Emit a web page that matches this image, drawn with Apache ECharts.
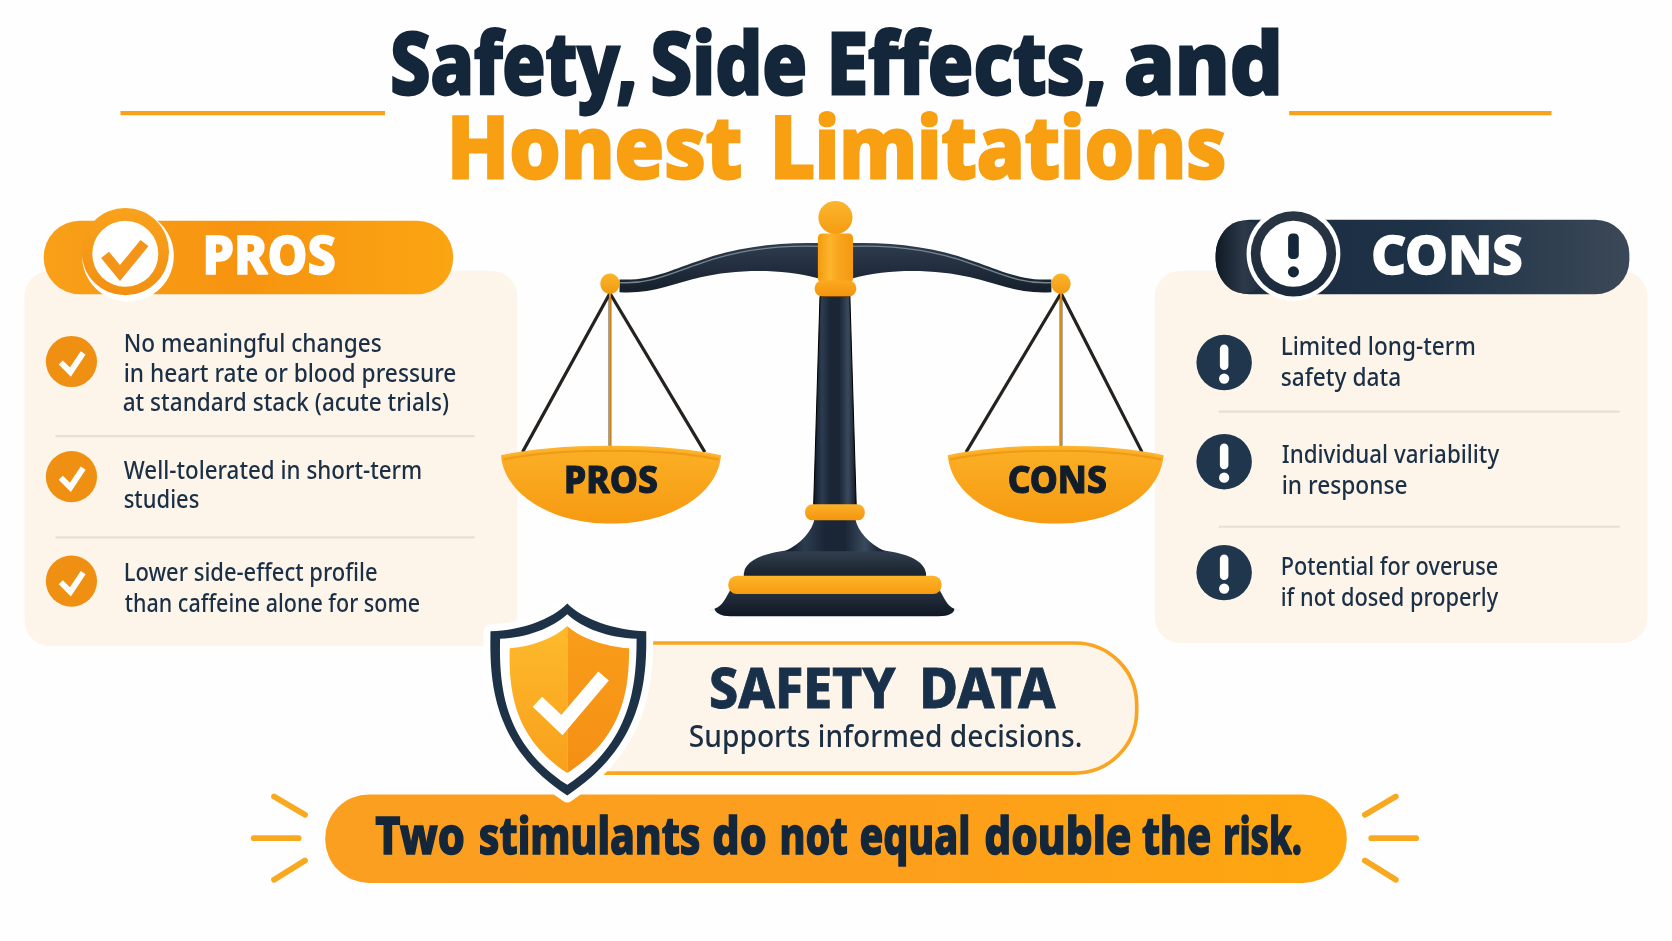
<!DOCTYPE html>
<html>
<head>
<meta charset="utf-8">
<title>Safety, Side Effects, and Honest Limitations</title>
<script src="https://cdn.jsdelivr.net/npm/echarts@6/dist/echarts.min.js"></script>
<style>
html, body { margin: 0; padding: 0; background: #fefefe; }
#main { width: 1672px; height: 941px; }
</style>
</head>
<body>
<div id="main"></div>
<script>
// texts
var titleWords1 = ['Safety,', 'Side', 'Effects,', 'and'];
var titleWords2 = ['Honest', 'Limitations'];
var prosHeader = 'PROS';
var consHeader = 'CONS';
var prosItems = [
	['No meaningful changes', 'in heart rate or blood pressure', 'at standard stack (acute trials)'],
	['Well-tolerated in short-term', 'studies'],
	['Lower side-effect profile', 'than caffeine alone for some']
];
var consItems = [
	['Limited long-term', 'safety data'],
	['Individual variability', 'in response'],
	['Potential for overuse', 'if not dosed properly']
];
var safetyWords = ['SAFETY', 'DATA'];
var safetySub = 'Supports informed decisions.';
var bannerWords = ['Two', 'stimulants', 'do', 'not', 'equal', 'double', 'the', 'risk.'];

// colours
var navy = '#13263a';
var orange = '#f9a11b';
var cream = '#fdf5ea';
var FONT = '"Noto Sans", sans-serif';

var chart = echarts.init(document.getElementById('main'));
var ctx = document.createElement('canvas').getContext('2d');
var items = [];
var pathCount = 0;

function vgrad(a, b) {
	return { type: 'linear', x: 0, y: 0, x2: 0, y2: 1, colorStops: [{ offset: 0, color: a }, { offset: 1, color: b }] };
}
function hgrad(stops) {
	var cs = [];
	for (var i = 0; i < stops.length; i++) {
		cs.push({ offset: i / (stops.length - 1), color: stops[i] });
	}
	return { type: 'linear', x: 0, y: 0, x2: 1, y2: 0, colorStops: cs };
}
function rect(x, y, w, h, r, style) {
	items.push({ type: 'rect', shape: { x: x, y: y, width: w, height: h, r: r }, style: style });
}
function circle(cx, cy, r, fill) {
	items.push({ type: 'circle', shape: { cx: cx, cy: cy, r: r }, style: { fill: fill } });
}
function ellipse(cx, cy, rx, ry, fill, extra) {
	var style = { fill: fill };
	if (extra) {
		style.shadowBlur = extra.blur;
		style.shadowColor = extra.color;
	}
	items.push({ type: 'ellipse', shape: { cx: cx, cy: cy, rx: rx, ry: ry }, style: style });
}
function line(x1, y1, x2, y2, color, w, cap) {
	items.push({ type: 'line', shape: { x1: x1, y1: y1, x2: x2, y2: y2 }, style: { stroke: color, lineWidth: w, lineCap: cap || 'butt' } });
}
// the graphic component has no plain svg path type, so each one gets its own shape
function path(d, style) {
	var name = 'sketchPath' + (pathCount++);
	echarts.graphic.registerShape(name, echarts.graphic.extendPath(d, {}));
	items.push({ type: name, style: style });
}
function poly(points, style) {
	items.push({ type: 'polyline', shape: { points: points }, style: style });
}
// text squeezed to the width it has in the picture
function text(str, x, y, size, weight, fill, width, bold) {
	var font = weight + ' ' + size + 'px ' + FONT;
	ctx.font = font;
	var style = { text: str, x: 0, y: 0, font: font, fill: fill, textAlign: 'left', textVerticalAlign: 'middle' };
	if (bold) {
		style.stroke = fill;
		style.lineWidth = bold;
	}
	items.push({
		type: 'text',
		x: x,
		y: y,
		scaleX: width / ctx.measureText(str).width,
		style: style
	});
}
// one row of separately placed words, spans are [left, right]
function words(list, spans, y, size, fill, bold) {
	list.forEach(function(w, i) {
		text(w, spans[i][0], y, size, 800, fill, spans[i][1] - spans[i][0], bold);
	});
}
function check(cx, cy) {
	poly([[cx - 10, cy + 1], [cx - 1, cy + 10], [cx + 11, cy - 8]], { fill: 'none', stroke: '#fff', lineWidth: 5.5 });
}
function bang(cx, cy) {
	rect(cx - 4, cy - 17, 8, 24, 4, { fill: '#fff' });
	circle(cx, cy + 15, 4.8, '#fff');
}

// title
words(titleWords1, [[366, 598], [610, 757], [775, 1038], [1054, 1203]], 65, 80, navy, 2.6);
words(titleWords2, [[419, 696], [722, 1150]], 144, 80, '#f89f12', 2.6);
line(113, 106, 361, 106, orange, 4);
line(1209, 106, 1455, 106, orange, 4);

// pros panel
rect(23, 254, 462, 352, 24, { fill: cream });
rect(41, 207, 384, 69, 34, { fill: hgrad(['#f99f18', '#f7940f', '#fba513']) });
circle(120, 240, 43, '#fff');
circle(117.5, 236, 41, vgrad('#f9a21c', '#f29012'));
circle(117.5, 238, 31, '#fff');
poly([[98.5, 239], [112.5, 256], [135.5, 228]], { fill: 'none', stroke: '#f4951a', lineWidth: 9.5 });
text(prosHeader, 190, 243, 50, 800, '#fff', 125, 1.5);

var prosIconY = [339, 447, 545];
var prosLineY = [[324, 352, 379], [443, 470], [538, 567]];
var prosLineX = [[116, 116, 115], [116, 116], [116, 117]];
var prosLineW = [[242, 312, 306], [280, 71], [238, 277]];
prosItems.forEach(function(lines, i) {
	circle(67, prosIconY[i], 24, '#ef9013');
	check(67, prosIconY[i]);
	lines.forEach(function(s, j) {
		text(s, prosLineX[i][j], prosLineY[i][j], 23, 500, '#1b3046', prosLineW[i][j]);
	});
});
line(52, 409, 445, 409, '#e7dfd3', 2);
line(52, 504, 445, 504, '#e7dfd3', 2);

// cons panel
rect(1083, 254, 462, 349, 24, { fill: cream });
rect(1140, 206, 388, 70, 32, { fill: hgrad(['#1a2a3d', '#1e3247', '#3b4857']) });
ellipse(1166, 241, 26, 34, hgrad(['#0f1925', '#2d3948', '#1c2c3e']));
circle(1213, 238, 44, '#fff');
circle(1213, 238, 40, vgrad('#2a3643', '#1a2a3d'));
circle(1213, 238, 31, '#fff');
rect(1208, 219, 10, 24, 4, { fill: navy });
circle(1213, 255, 5.2, navy);
text(consHeader, 1286, 243, 50, 800, '#fff', 142, 1.5);

var consIconY = [340, 433, 537];
var consLineY = [[326, 355], [428, 457], [533, 562]];
var consLineX = [[1201, 1201], [1202, 1202], [1201, 1201]];
var consLineW = [[183, 113], [204, 118], [204, 204]];
consItems.forEach(function(lines, i) {
	circle(1148, consIconY[i], 26, '#1f364d');
	bang(1148, consIconY[i]);
	lines.forEach(function(s, j) {
		text(s, consLineX[i][j], consLineY[i][j], 23, 500, '#1b3046', consLineW[i][j]);
	});
});
line(1143, 386, 1519, 386, '#e7dfd3', 2);
line(1143, 494, 1519, 494, '#e7dfd3', 2);

// scale: floor shadow
ellipse(783, 572, 118, 4, 'rgba(110,110,110,0.08)', { blur: 24, color: 'rgba(110,110,110,0.3)' });

// strings
function strings(apexX, left, right) {
	line(apexX, 275, left, 424, '#24211f', 3);
	line(apexX, 275, right, 424, '#24211f', 3);
	line(apexX, 275, apexX, 421, '#4a3210', 2.6);
	line(apexX, 275, apexX, 421, '#f39c10', 1.6);
}
strings(572, 490, 661);
strings(995, 906, 1071);

// pans
function pan(x1, x2, label, tx, tw) {
	var c = (x1 + x2) / 2;
	var d = 'M' + x1 + ' 428 C' + (x1 + 3) + ' 462 ' + (c - 58) + ' 491 ' + c + ' 491 C' + (c + 58) + ' 491 ' + (x2 - 3) + ' 462 ' + x2 + ' 428 ' +
		'C' + (c + 50) + ' 416 ' + (c - 50) + ' 416 ' + x1 + ' 428Z';
	path(d, { fill: vgrad('#fbb027', '#f69a11') });
	path('M' + (x1 + 2) + ' 431 C' + (c - 50) + ' 420 ' + (c + 50) + ' 420 ' + (x2 - 2) + ' 431', { fill: 'none', stroke: '#f09a15', lineWidth: 2 });
	path('M' + x1 + ' 428 C' + (c - 50) + ' 416 ' + (c + 50) + ' 416 ' + x2 + ' 428', { fill: 'none', stroke: '#fcb42e', lineWidth: 2 });
	text(label, tx, 452, 35, 800, '#111d2b', tw, 1);
}
pan(470, 676, prosHeader, 529, 88);
pan(889, 1091, consHeader, 945, 93);

// beam
path('M581 262 C610 264 632 252 657 244 C690 232 730 227 767 228 L800 228 C837 227 877 232 910 244 C935 252 957 264 986 262 ' +
	'L986 274 C957 276 935 266 910 260 C880 253 835 251 800 261 L767 261 C732 251 687 253 657 260 C632 266 610 276 581 274Z',
	{ fill: vgrad('#2e3d50', '#161f2b') });
path('M581 265 C610 267 632 255 657 247 C690 235 730 230 767 231', { fill: 'none', stroke: '#77858f', lineWidth: 1.3 });
path('M986 265 C957 267 935 255 910 247 C877 235 837 230 800 231', { fill: 'none', stroke: '#77858f', lineWidth: 1.3 });
ellipse(572, 266, 9, 9.5, vgrad('#fcb52a', '#f29a12'));
ellipse(995, 266, 9, 9.5, vgrad('#fcb52a', '#f29a12'));

// column and base
var columnFill = hgrad(['#0e1621', '#2c3c50', '#1a2636', '#1a2636', '#3a4a5e', '#0f1722']);
poly([[769, 278], [797, 278], [803, 476], [763, 476], [769, 278]], { fill: columnFill });
path('M698 536 C700 526 715 519 738 516 L828 516 C851 519 866 526 868 536 C870 542 866 546 860 546 L706 546 C700 546 696 542 698 536Z',
	{ fill: vgrad('#33404f', '#121a25') });
path('M764 486 L802 486 C804 498 815 510 830 517 L736 517 C751 510 762 498 764 486Z', { fill: columnFill });
path('M686 551 L880 551 C886 562 888 568 895 571 C895 575 890 578 880 578 L685 578 C676 578 671 575 670 571 C678 568 680 562 686 551Z',
	{ fill: vgrad('#2b3644', '#0f1722') });
rect(683, 540, 200, 17, 8, { fill: vgrad('#fdb52a', '#f79a0f') });
rect(755, 473, 56, 15, 7, { fill: vgrad('#fdb02a', '#f3950d') });
rect(767, 219, 33, 46, 4, { fill: hgrad(['#f49a10', '#fdb52c', '#f8a11a', '#f49a10']) });
rect(764, 263, 39, 15, 7, { fill: vgrad('#fbaa20', '#f3940d') });
ellipse(783.5, 204, 16, 15.5, vgrad('#fcb62e', '#f59c12'));

// safety data box
rect(530, 603, 536, 122, [0, 58, 58, 0], { fill: cream, stroke: '#f9a521', lineWidth: 3.4 });
words(safetyWords, [[665, 840], [862, 990]], 649, 51, '#19304a', 0.8);
text(safetySub, 646, 692, 29, 500, '#1b2f44', 369);

// banner
rect(305, 745, 958, 83, 41, { fill: hgrad(['#fb9f20', '#fd9e1d', '#fda60f']) });
words(bannerWords, [[352, 436], [449, 657], [668, 719], [731, 795], [806, 910], [923, 1061], [1071, 1136], [1147, 1221]], 787, 49, navy, 1.4);
var rays = [[238, 786, 280, 786], [257, 747, 286, 764], [257, 825, 286, 807],
	[1286, 786, 1328, 786], [1309, 747, 1280, 764], [1309, 825, 1280, 807]];
rays.forEach(function(r) {
	line(r[0], r[1], r[2], r[3], '#f9a91f', 5.5, 'round');
});

// shield
var shieldOuter = 'M532 566 C517 581 490 591 460 592 C459 640 462 700 532 746 C602 700 607 640 606 592 C576 591 547 581 532 566Z';
path(shieldOuter, { fill: '#fff', stroke: '#fff', lineWidth: 13, lineJoin: 'round' });
path(shieldOuter, { fill: '#1d3247' });
path('M532 576 C518 589 494 598 469 599 C468 643 472 697 532 736 C592 697 597 643 597 599 C570 598 546 589 532 576Z', { fill: '#fff' });
path('M532 587 C520 598 500 606 478 608 C477 648 482 692 532 725Z', { fill: vgrad('#fdba2c', '#f9a01c') });
path('M532 587 C544 598 566 606 590 608 C590 648 584 692 532 725Z', { fill: vgrad('#f99d1a', '#f58f14') });
poly([[504, 658], [527, 680], [566, 634]], { fill: 'none', stroke: '#fff', lineWidth: 13 });

var k = 1672 / 1568;
var option = {
	backgroundColor: '#fefefe',
	animation: false,
	graphic: {
		elements: [{ type: 'group', scaleX: k, scaleY: k, children: items }]
	}
};
chart.setOption(option);
</script>
</body>
</html>
